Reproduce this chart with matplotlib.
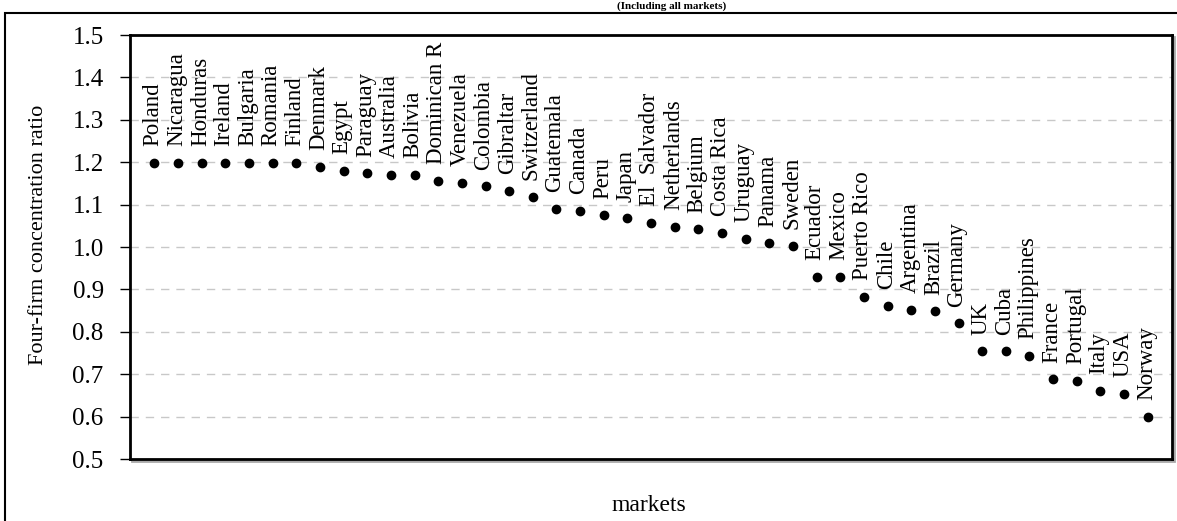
import matplotlib.pyplot as plt
from matplotlib.patches import Rectangle

# markets ordered as in the chart, with four-firm concentration ratio
markets = ['Poland', 'Nicaragua', 'Honduras', 'Ireland', 'Bulgaria', 'Romania',
           'Finland', 'Denmark', 'Egypt', 'Paraguay', 'Australia', 'Bolivia',
           'Dominican R', 'Venezuela', 'Colombia', 'Gibraltar', 'Switzerland',
           'Guatemala', 'Canada', 'Peru', 'Japan', 'El  Salvador', 'Netherlands',
           'Belgium', 'Costa Rica', 'Uruguay', 'Panama', 'Sweden', 'Ecuador',
           'Mexico', 'Puerto Rico', 'Chile', 'Argentina', 'Brazil', 'Germany',
           'UK', 'Cuba', 'Philippines', 'France', 'Portugal', 'Italy', 'USA',
           'Norway']
ratio = [1.199, 1.199, 1.199, 1.199, 1.199, 1.199, 1.199, 1.189, 1.179, 1.174,
         1.170, 1.170, 1.156, 1.151, 1.143, 1.133, 1.119, 1.090, 1.085, 1.075,
         1.068, 1.057, 1.048, 1.042, 1.033, 1.020, 1.009, 1.002, 0.929, 0.929,
         0.882, 0.862, 0.852, 0.848, 0.820, 0.754, 0.754, 0.743, 0.688, 0.685,
         0.660, 0.654, 0.599]
yticks = [0.5, 0.6, 0.7, 0.8, 0.9, 1.0, 1.1, 1.2, 1.3, 1.4, 1.5]

plt.rcParams['font.family'] = ['Liberation Serif', 'DejaVu Serif']

fig = plt.figure(figsize=(11.77, 5.21), dpi=100)
ax = fig.add_axes([0.1105, 0.119, 0.8853, 0.8138])

# light shadow under the plot frame
fig.patches.append(Rectangle((0.1105 + 2 / 1177, 0.119 - 2 / 521), 0.8853, 0.8138,
                             transform=fig.transFigure, facecolor='none',
                             edgecolor='#aaaaaa', linewidth=2, zorder=-1))

x = list(range(len(markets)))
ax.plot(x, ratio, 'o', color='black', ms=6, zorder=3)

# labels above each dot
for xi, yi, name in zip(x, ratio, markets):
    ax.annotate(name, (xi, yi), xytext=(-1, 12), textcoords='offset points',
                rotation=90, ha='center', va='bottom', fontsize=16.5,
                annotation_clip=False)

ax.set_xlim(-1.03, 43.03)
ax.set_ylim(0.5, 1.5)
ax.set_yticks(yticks)
ax.set_yticklabels([f'{v:.1f}' for v in yticks], fontsize=18)
ax.set_xticks([])
ax.tick_params(axis='y', direction='out', length=7, width=1, pad=12)

ax.yaxis.grid(True, linestyle=(0, (6, 5)), color='#c8c8c8', linewidth=1)
ax.set_axisbelow(True)
for s in ax.spines.values():
    s.set_linewidth(2)
    s.set_color('black')

ax.set_ylabel('Four-firm concentration ratio', fontsize=16)
ax.yaxis.set_label_coords(-0.079, 0.528)
fig.text(0.551, 0.03, 'markets', ha='center', va='center', fontsize=17)

# chart title, squeezed into the band above the frame
fig.text(0.571, 1 - 1 / 521, '(Including all markets)', ha='center', va='top',
         fontsize=8, fontweight='bold')

# outer chart frame
fig.patches.append(Rectangle((5 / 1177, -0.1), 1.2, 1 - 13 / 521 + 0.1,
                             transform=fig.transFigure, fill=False,
                             edgecolor='black', linewidth=1.5))

fig.savefig('out.png', dpi=100)
